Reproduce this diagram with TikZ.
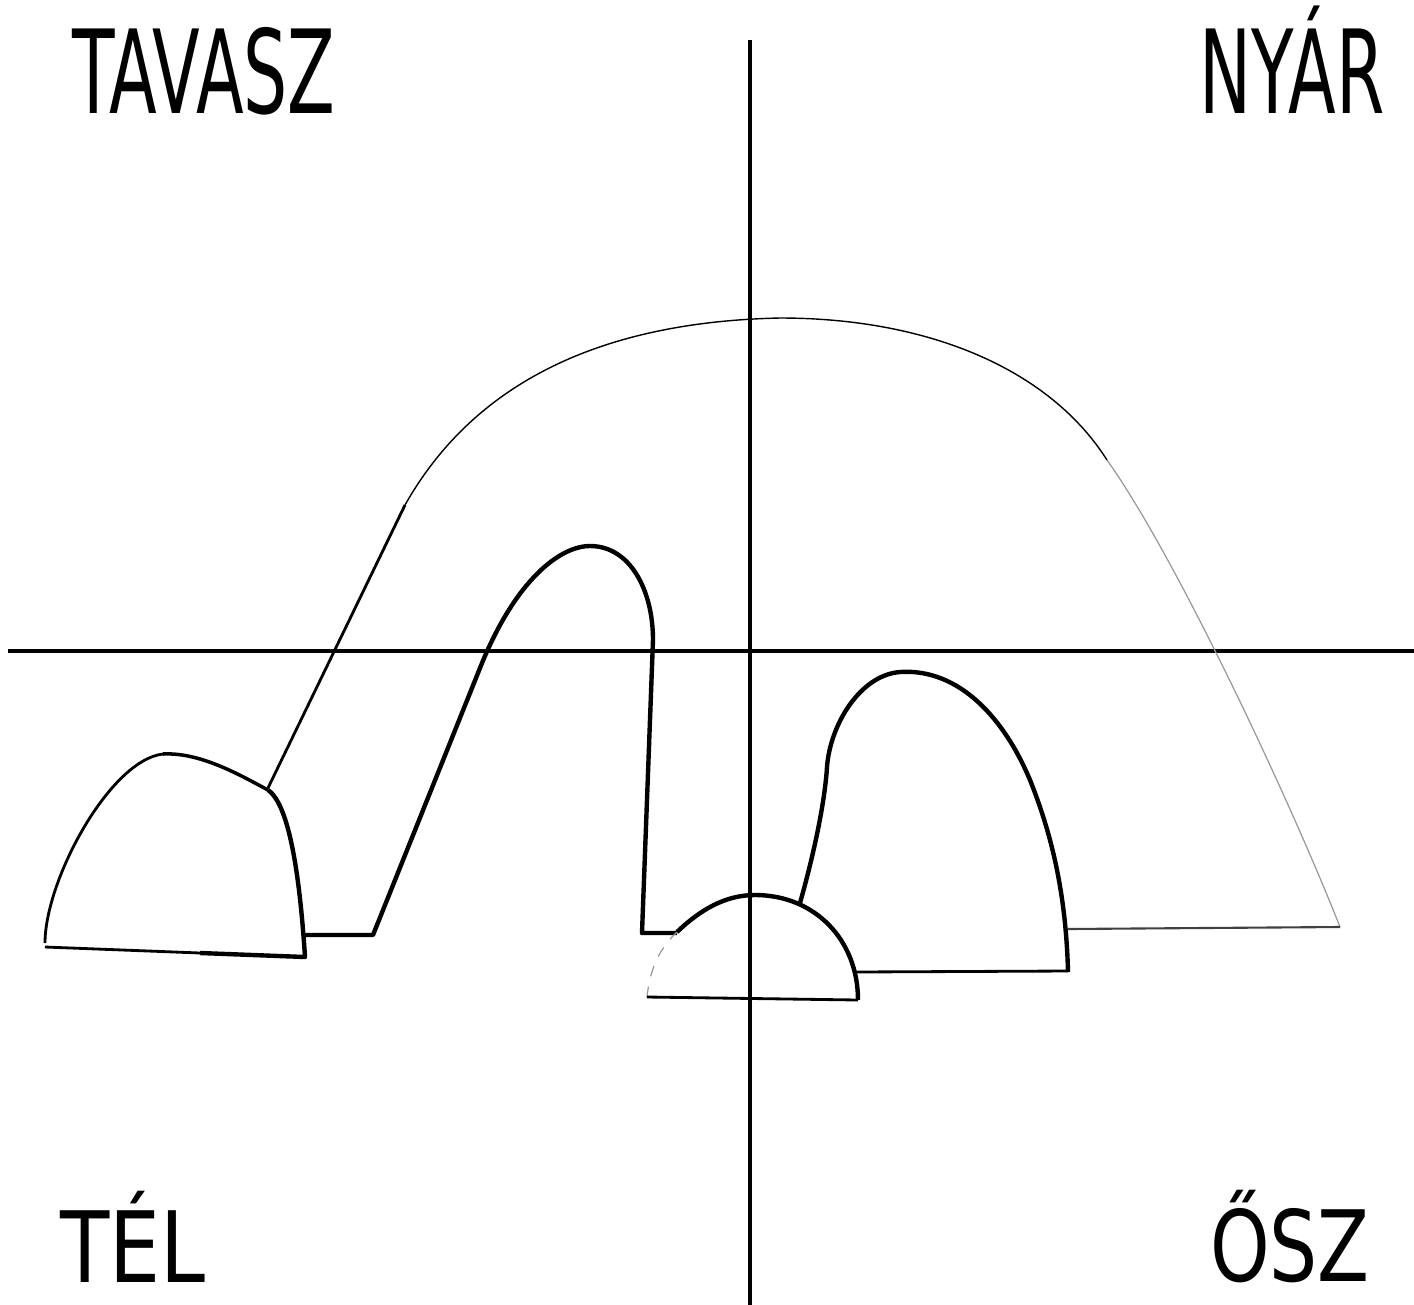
\documentclass[tikz,border=0pt]{standalone}
\usepackage{fontspec}
\newfontfamily\seasonfont{DejaVu Sans}
\tikzset{
  season/.style={font=\seasonfont\fontsize{33}{33}\selectfont, anchor=base, inner sep=0pt},
  small season/.style={season, font=\seasonfont\fontsize{28}{28}\selectfont},
  axis/.style={line width=0.9pt},
  bold outline/.style={line width=1.25pt, line join=round},
  mid outline/.style={line width=1pt, line join=round},
  thin outline/.style={line width=0.8pt, line join=round},
  hair/.style={line width=0.4pt},
  faint/.style={line width=0.35pt, black!40},
}

\begin{document}
\begin{tikzpicture}[x=0.01cm, y=-0.01cm]
    \useasboundingbox (0,0) rectangle (1414,1305);
    % seasons
    \node[season] (tavasz) at (204,113) {\scalebox{0.6}[1]{TAVASZ}};
    \node[season] (nyar) at (1292,113) {\scalebox{0.6}[1]{NYÁR}};
    \node[small season] (tel) at (133,1282) {\scalebox{0.82}[1]{TÉL}};
    \node[small season] (osz) at (1290,1281) {\scalebox{0.77}[1]{ŐSZ}};
    % axes
    \draw[axis] (750,40) -- (750,1305);
    \draw[axis] (8,651) -- (1414,651);
    % outer arch
    \draw[thin outline] (268,788) -- (405,505);
    \draw[hair] (405,505) .. controls (470,390) and (590,322) .. (780,318)
      .. controls (930,318) and (1050,370) .. (1107,460);
    \draw[faint] (1107,460) .. controls (1175,555) and (1290,800) .. (1340,927);
    \draw[line width=0.6pt, black!75] (1340,927) -- (1068,929);
    % left bump
    \draw[thin outline] (45,943) .. controls (45,880) and (110,760) .. (163,754);
    \draw[mid outline] (163,754) .. controls (200,752) and (240,775) .. (268,790);
    \draw[bold outline] (268,790) .. controls (290,805) and (300,880) .. (305,957)
      -- (200,953);
    \draw[thin outline] (200,953) -- (45,947);
    % middle arch
    \draw[bold outline] (303,935) -- (373,935) -- (480,668)
      .. controls (515,580) and (560,546) .. (590,546)
      .. controls (630,546) and (653,590) .. (653,640) -- (642,933) -- (677,933);
    % small half circle
    \draw[faint, dashed] (647,997) .. controls (650,968) and (660,948) .. (677,932);
    \draw[bold outline] (677,932) .. controls (700,910) and (725,895) .. (755,895)
      .. controls (815,895) and (858,940) .. (858,1000);
    \draw[thin outline] (858,1000) -- (647,997);
    % right bump
    \draw[bold outline] (800,903) .. controls (815,850) and (825,800) .. (827,767)
      .. controls (830,725) and (860,675) .. (900,672)
      .. controls (960,668) and (1005,720) .. (1030,780)
      .. controls (1050,830) and (1066,890) .. (1068,972);
    \draw[thin outline] (1068,971) -- (855,972);
\end{tikzpicture}
\end{document}
